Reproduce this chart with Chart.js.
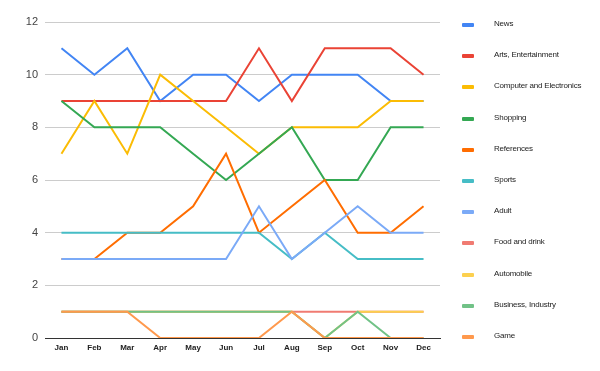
<!DOCTYPE html>
<html>
<head>
<meta charset="utf-8">
<script src="https://cdn.jsdelivr.net/npm/chart.js@4"></script>
<style>
  body { margin: 0; background: #fff; }
  #wrap { position: relative; width: 600px; height: 371px; }
  #legend { position: absolute; left: 462px; top: 19px; font-family: "Liberation Sans", Arial, sans-serif; font-size: 8px; color: #222; }
  .item { height: 31.2px; position: relative; }
  .item span.box { position: absolute; left: 0; top: 4px; width: 12px; height: 4px; border-radius: 1px; }
  .item span.txt { position: absolute; left: 32px; top: 0; white-space: nowrap; letter-spacing: -0.2px; }
</style>
</head>
<body>
<div id="wrap">
  <canvas id="chart" width="600" height="371"></canvas>
  <div id="legend"></div>
</div>
<script>
const months = ['Jan', 'Feb', 'Mar', 'Apr', 'May', 'Jun', 'Jul', 'Aug', 'Sep', 'Oct', 'Nov', 'Dec'];

const news        = [11, 10, 11, 9, 10, 10, 9, 10, 10, 10, 9, 9];
const arts        = [9, 9, 9, 9, 9, 9, 11, 9, 11, 11, 11, 10];
const computer    = [7, 9, 7, 10, 9, 8, 7, 8, 8, 8, 9, 9];
const shopping    = [9, 8, 8, 8, 7, 6, 7, 8, 6, 6, 8, 8];
const references  = [3, 3, 4, 4, 5, 7, 4, 5, 6, 4, 4, 5];
const sports      = [4, 4, 4, 4, 4, 4, 4, 3, 4, 3, 3, 3];
const adult       = [3, 3, 3, 3, 3, 3, 5, 3, 4, 5, 4, 4];
const food        = [1, 1, 1, 1, 1, 1, 1, 1, 1, 1, 1, 1];
const automobile  = [1, 1, 1, 1, 1, 1, 1, 1, 0, 1, 1, 1];
const business    = [1, 1, 1, 1, 1, 1, 1, 1, 0, 1, 0, 0];
const game        = [1, 1, 1, 0, 0, 0, 0, 1, 0, 0, 0, 0];

const seriesNames  = ['News', 'Arts, Entertainment', 'Computer and Electronics', 'Shopping', 'References', 'Sports', 'Adult', 'Food and drink', 'Automobile', 'Business, Industry', 'Game'];
const seriesData   = [news, arts, computer, shopping, references, sports, adult, food, automobile, business, game];
const seriesColors = ['#4285f4', '#ea4335', '#fbbc04', '#34a853', '#ff6d01', '#46bdc6', '#7baaf7', '#f07b72', '#fcd04f', '#71c287', '#ff994d'];

const yTicks = [0, 2, 4, 6, 8, 10, 12];

// later series on top, like the original
const datasets = seriesNames.map((name, i) => ({
    label: name,
    data: seriesData[i],
    borderColor: seriesColors[i],
    backgroundColor: seriesColors[i],
    borderWidth: 2,
    pointRadius: 0,
    tension: 0,
    order: seriesNames.length - i
}));

new Chart(document.getElementById('chart').getContext('2d'), {
    type: 'line',
    data: { labels: months, datasets: datasets },
    options: {
        responsive: false,
        animation: false,
        layout: { padding: { left: 0, right: 160, top: 22, bottom: 0 } },
        plugins: { legend: { display: false }, tooltip: { enabled: false } },
        scales: {
            x: {
                offset: true,
                grid: { display: false, drawTicks: false },
                border: { color: '#333', width: 1 },
                ticks: { color: '#222', font: { family: 'Liberation Sans', size: 8, weight: 'bold' }, padding: 5, maxRotation: 0 },
                afterFit: s => { s.height = 33; }
            },
            y: {
                min: 0, max: 12,
                afterBuildTicks: s => { s.ticks = yTicks.map(v => ({ value: v })); },
                grid: { color: '#cccccc', drawTicks: false },
                border: { display: false },
                ticks: { color: '#444', font: { family: 'Liberation Sans', size: 11 }, padding: 7 },
                afterFit: s => { s.width = 45; }
            }
        }
    }
});

const legend = document.getElementById('legend');
seriesNames.forEach((name, i) => {
    const item = document.createElement('div');
    item.className = 'item';
    item.innerHTML = '<span class="box" style="background:' + seriesColors[i] + '"></span><span class="txt">' + name + '</span>';
    legend.appendChild(item);
});
</script>
</body>
</html>
